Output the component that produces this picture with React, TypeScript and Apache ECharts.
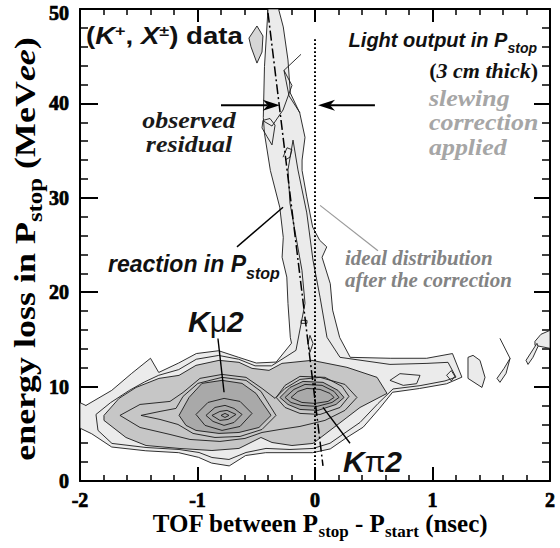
import React, { useEffect, useRef } from "react";
import * as echarts from "echarts";

// ---------- axes ----------
const X_MIN = -2;
const X_MAX = 2;
const X_STEP = 1;
const Y_MIN = 0;
const Y_MAX = 50;
const Y_STEP = 10;

// ---------- contour polygons: [TOF (nsec), energy loss (MeVee)] ----------
const BAND_OUTER = [
  [-2.0, 8.3], [-1.95, 8.0], [-1.73, 9.6], [-1.56, 11.4], [-1.4, 13.0], [-1.33, 11.5], [-1.16, 12.5],
  [-1.01, 13.5], [-0.82, 13.8], [-0.65, 13.1], [-0.5, 12.5], [-0.33, 12.6], [-0.2, 14.6], [-0.21, 15.2],
  [-0.23, 18.8], [-0.24, 21.6], [-0.28, 23.7], [-0.27, 25.8], [-0.3, 29.0], [-0.38, 32.9], [-0.43, 36.8],
  [-0.44, 38.5], [-0.43, 43.9], [-0.4, 50], [-0.31, 50], [-0.27, 48.1], [-0.23, 44.6], [-0.21, 41.1],
  [-0.13, 39.0], [-0.085, 36.4], [-0.11, 34.0], [-0.11, 32.9], [-0.07, 30.1], [-0.02, 26.9], [0.04, 25.5],
  [0.1, 24.8], [0.06, 23.7], [0.13, 20.9], [0.15, 18.1], [0.21, 15.2], [0.3, 13.1], [0.64, 13.0],
  [0.95, 13.0], [1.17, 13.5], [1.25, 11.0], [1.12, 10.3], [0.89, 9.8], [0.66, 9.4], [0.55, 7.7],
  [0.41, 5.7], [0.27, 4.6], [0.13, 3.4], [-0.02, 3.0], [-0.42, 3.0], [-0.59, 2.7], [-0.73, 1.6],
  [-0.88, 1.9], [-0.99, 2.5], [-1.16, 3.0], [-1.44, 3.2], [-1.73, 3.6], [-1.9, 5.0], [-2.0, 5.6],
];
const BAND_INNER = [
  [-1.864, 7.05], [-1.74, 8.3], [-1.58, 9.6], [-1.45, 10.5], [-1.33, 11.2], [-1.16, 11.8], [-1.01, 12.9],
  [-0.82, 13.3], [-0.65, 12.9], [-0.51, 12.2], [-0.37, 12.2], [-0.23, 13.3], [-0.162, 13.84],
  [-0.085, 18.82], [-0.111, 22.32], [-0.213, 29.43], [-0.23, 32.95], [-0.187, 36.11], [-0.145, 32.95],
  [-0.07, 28.4], [-0.017, 23.38], [0.043, 19.46], [0.102, 15.22], [0.213, 13.1], [0.638, 12.35],
  [0.953, 12.46], [1.132, 12.57], [1.2, 11.0], [1.106, 10.6], [0.894, 10.1], [0.664, 9.75], [0.536, 8.2],
  [0.383, 6.2], [0.255, 5.1], [0.128, 4.0], [-0.017, 3.45], [-0.213, 3.34], [-0.417, 3.45], [-0.587, 3.02],
  [-0.732, 2.28], [-0.877, 2.49], [-0.987, 3.02], [-1.157, 3.34], [-1.438, 3.55], [-1.728, 3.98],
  [-1.847, 5.36],
];
const MEDIUM = [
  [-1.796, 6.95], [-1.668, 8.75], [-1.523, 9.91], [-1.328, 10.87], [-1.157, 11.19], [-1.013, 12.25],
  [-0.817, 12.78], [-0.647, 12.57], [-0.536, 11.93], [-0.391, 11.72], [-0.281, 12.46], [-0.026, 12.78],
  [0.272, 12.04], [0.528, 10.98], [0.613, 9.28], [0.383, 7.79], [0.272, 6.73], [0.128, 5.36],
  [-0.017, 3.98], [-0.196, 3.76], [-0.366, 4.08], [-0.46, 4.61], [-0.647, 3.45], [-0.877, 3.23],
  [-1.157, 3.45], [-1.438, 3.76], [-1.609, 4.61], [-1.796, 6.42],
];
const MID_WRAP = [
  [-1.66, 6.95], [-1.489, 8.11], [-1.234, 8.43], [-1.123, 9.38], [-0.979, 10.87], [-0.791, 11.29],
  [-0.587, 10.98], [-0.451, 9.81], [-0.34, 8.75], [-0.255, 9.81], [-0.128, 10.76], [0.043, 10.98],
  [0.255, 10.23], [0.357, 8.85], [0.255, 7.48], [0.085, 6.42], [-0.128, 5.78], [-0.298, 5.46],
  [-0.451, 5.14], [-0.596, 4.51], [-0.809, 4.19], [-1.064, 4.4], [-1.234, 4.93], [-1.489, 5.67],
];
const KMU_R1 = [
  [-1.481, 6.95], [-1.319, 7.37], [-1.183, 7.69], [-1.123, 8.96], [-0.996, 10.34], [-0.791, 10.98],
  [-0.587, 10.66], [-0.46, 9.49], [-0.332, 6.95], [-0.451, 5.46], [-0.638, 4.72], [-0.851, 4.61],
  [-1.038, 5.04], [-1.166, 5.99], [-1.319, 6.52],
];
const KMU_CORE = [
  [-1.157, 6.95], [-1.072, 8.85], [-0.962, 10.34], [-0.791, 10.66], [-0.621, 10.34], [-0.502, 9.28],
  [-0.374, 6.95], [-0.477, 5.67], [-0.647, 5.14], [-0.817, 5.04], [-1.013, 5.36], [-1.098, 5.89],
];
const KMU_R2 = [
  [-1.013, 7.05], [-0.911, 8.32], [-0.774, 8.75], [-0.638, 8.43], [-0.536, 7.16], [-0.638, 5.78],
  [-0.791, 5.36], [-0.936, 5.89],
];
const KMU_R3 = [
  [-0.928, 6.95], [-0.851, 7.79], [-0.766, 8.01], [-0.689, 7.69], [-0.621, 7.05], [-0.689, 6.2],
  [-0.774, 5.89], [-0.868, 6.31],
];
const KMU_R4 = [[-0.877, 6.95], [-0.809, 7.37], [-0.749, 7.48], [-0.672, 7.05], [-0.74, 6.52], [-0.809, 6.42]];
const KMU_R5 = [[-0.8, 6.95], [-0.766, 7.16], [-0.732, 6.95], [-0.766, 6.73]];
const KPI_R1 = [
  [-0.33, 8.85], [-0.255, 10.13], [-0.128, 11.08], [0.085, 10.98], [0.23, 10.02], [0.289, 8.96],
  [0.213, 7.79], [0.043, 7.05], [-0.128, 7.16], [-0.255, 7.79],
];
const KPI_CORE = [
  [-0.298, 8.85], [-0.213, 9.91], [-0.102, 10.55], [0.068, 10.45], [0.196, 9.6], [0.247, 8.85],
  [0.179, 8.11], [0.026, 7.48], [-0.128, 7.58], [-0.23, 8.11],
];
const KPI_R3 = [
  [-0.255, 8.85], [-0.179, 9.7], [-0.085, 10.23], [0.06, 10.13], [0.162, 9.49], [0.204, 8.85],
  [0.145, 8.32], [0.017, 7.9], [-0.119, 8.01], [-0.204, 8.32],
];
const KPI_R4 = [
  [-0.204, 8.85], [-0.145, 9.49], [-0.068, 9.81], [0.043, 9.7], [0.128, 9.28], [0.162, 8.85],
  [0.111, 8.43], [0.0, 8.22], [-0.111, 8.32], [-0.17, 8.64],
];
const TOP_BLOB = [[-0.562, 46.92], [-0.494, 48.2], [-0.443, 47.14], [-0.451, 45.44], [-0.494, 44.27], [-0.545, 46.0]];
const RIGHT_LOOP = [[0.638, 10.66], [0.723, 11.37], [0.894, 11.19], [0.865, 10.31], [0.751, 10.13]];
const RIGHT_DIAMOND = [[1.12, 11.2], [1.16, 11.7], [1.19, 11.1], [1.16, 10.6]];
const RIGHT_BLOB_B = [[1.302, 13.1], [1.345, 13.31], [1.404, 12.78], [1.447, 10.98], [1.421, 9.91], [1.302, 10.87]];
const RIGHT_BLOB_C = [[1.66, 12.99], [1.609, 11.93], [1.549, 10.87], [1.574, 10.45], [1.626, 11.4]];
const RIGHT_LINE_C = [[1.574, 15.11], [1.66, 12.99]];
const RIGHT_BLOB_D = [[1.872, 14.79], [1.923, 15.54], [2.0, 15.96], [2.0, 14.05], [1.872, 14.37]];
const RIGHT_SPIKE_D = [[1.889, 14.58], [1.796, 12.78], [1.813, 12.35], [1.855, 13.1], [1.898, 14.26]];
const STALK_LINE_1 = [[-0.119, 45.2], [-0.264, 43.5], [-0.221, 40.8], [-0.128, 39.0]];
const STALK_LINE_2 = [[-0.264, 43.5], [-0.196, 41.9], [-0.272, 39.3], [-0.366, 37.6], [-0.434, 38.1]];
const STALK_LOOP_3 = [[-0.443, 38.2], [-0.383, 38.4], [-0.34, 37.7], [-0.366, 35.6], [-0.409, 36.5], [-0.451, 37.4]];
const STALK_LOOP_4 = [[-0.272, 34.3], [-0.238, 35.3], [-0.196, 35.1], [-0.213, 34.3], [-0.255, 34.0]];
const STALK_MARK = [[-0.119, 17.02], [-0.068, 17.02], [-0.068, 16.7], [-0.119, 16.7]];
const STALK_LEAF = [[-0.043, 15.43], [-0.017, 14.58], [-0.043, 13.63], [-0.06, 14.58]];

// ---------- annotation lines ----------
const DOTTED_LINE = [[0, 0], [0, 47.0]];
const DASHDOT_LINE = [[-0.4, 49.6], [0.068, 1.6]];
const ARROW_LEFT = [[-0.8, 39.8], [-0.3, 39.8]];
const ARROW_RIGHT = [[0.51, 39.8], [0.026, 39.8]];
const KMU_LEADER = [[-0.826, 15.1], [-0.774, 9.4]];
const KPI_LEADER = [[0.068, 7.8], [0.298, 4.0]];
const REACTION_LEADER = [[-0.664, 24.8], [-0.272, 29.0]];
const IDEAL_LEADER = [[0.043, 29.2], [0.536, 24.4]];

const SERIF = '"Liberation Serif", "Times New Roman", Times, serif';
const SANS = '"Liberation Sans", Arial, Helvetica, sans-serif';

const LIGHT = "#ebebeb";
const MED = "#c6c6c6";
const DARK = "#a9a9a9";
const BLOB = "#d6d6d6";

type Shape = { pts: number[][]; fill?: string; open?: boolean };
const SHAPES: Shape[] = [
  { pts: BAND_OUTER, fill: LIGHT },
  { pts: TOP_BLOB, fill: BLOB },
  { pts: RIGHT_BLOB_B, fill: LIGHT },
  { pts: RIGHT_BLOB_C, fill: LIGHT },
  { pts: RIGHT_BLOB_D, fill: LIGHT },
  { pts: RIGHT_SPIKE_D, fill: LIGHT },
  { pts: RIGHT_LINE_C, open: true },
  { pts: BAND_INNER },
  { pts: RIGHT_LOOP },
  { pts: RIGHT_DIAMOND },
  { pts: STALK_LINE_1, open: true },
  { pts: STALK_LINE_2, open: true },
  { pts: STALK_LOOP_3 },
  { pts: STALK_LOOP_4, open: true },
  { pts: STALK_MARK },
  { pts: STALK_LEAF },
  { pts: MEDIUM, fill: MED },
  { pts: MID_WRAP },
  { pts: KMU_R1 },
  { pts: KMU_CORE, fill: DARK },
  { pts: KMU_R2 },
  { pts: KMU_R3 },
  { pts: KMU_R4 },
  { pts: KMU_R5 },
  { pts: KPI_R1 },
  { pts: KPI_CORE, fill: DARK },
  { pts: KPI_R3 },
  { pts: KPI_R4 },
];

type Annot = { pts: number[][]; kind: "line" | "arrow"; color: string; lw: number; dash?: number[] };
const ANNOTS: Annot[] = [
  { pts: DOTTED_LINE, kind: "line", color: "#000", lw: 2, dash: [1.8, 2.2] },
  { pts: DASHDOT_LINE, kind: "line", color: "#000", lw: 1.5, dash: [10, 3, 2, 3] },
  { pts: KMU_LEADER, kind: "line", color: "#000", lw: 1.4 },
  { pts: KPI_LEADER, kind: "line", color: "#000", lw: 1.4 },
  { pts: REACTION_LEADER, kind: "line", color: "#000", lw: 1.4 },
  { pts: IDEAL_LEADER, kind: "line", color: "#9a9a9a", lw: 1.2 },
  { pts: ARROW_LEFT, kind: "arrow", color: "#000", lw: 2 },
  { pts: ARROW_RIGHT, kind: "arrow", color: "#000", lw: 2 },
];

function renderShape(params: any, api: any) {
  const s = SHAPES[params.dataIndex];
  const pts = s.pts.map((p) => api.coord(p));
  if (s.open) {
    return { type: "polyline", shape: { points: pts }, style: { fill: "none", stroke: "#1a1a1a", lineWidth: 0.9 } };
  }
  return {
    type: "polygon",
    shape: { points: pts },
    style: { fill: s.fill || "none", stroke: "#1a1a1a", lineWidth: 0.9 },
  };
}

function renderAnnot(params: any, api: any) {
  const a = ANNOTS[params.dataIndex];
  const p0 = api.coord(a.pts[0]);
  const p1 = api.coord(a.pts[1]);
  if (a.kind === "line") {
    return {
      type: "line",
      shape: { x1: p0[0], y1: p0[1], x2: p1[0], y2: p1[1] },
      style: { stroke: a.color, lineWidth: a.lw, lineDash: a.dash || null, fill: "none" },
    };
  }
  const dx = p1[0] - p0[0];
  const dy = p1[1] - p0[1];
  const len = Math.hypot(dx, dy) || 1;
  const ux = dx / len;
  const uy = dy / len;
  const px = -uy;
  const py = ux;
  const L = 17;
  const W = 5.5;
  const notch = 12;
  const bx = p1[0] - ux * L;
  const by = p1[1] - uy * L;
  const nx = p1[0] - ux * notch;
  const ny = p1[1] - uy * notch;
  return {
    type: "group",
    children: [
      {
        type: "line",
        shape: { x1: p0[0], y1: p0[1], x2: nx, y2: ny },
        style: { stroke: a.color, lineWidth: a.lw },
      },
      {
        type: "polygon",
        shape: { points: [[p1[0], p1[1]], [bx + px * W, by + py * W], [nx, ny], [bx - px * W, by - py * W]] },
        style: { fill: a.color, stroke: "none" },
      },
    ],
  };
}

function axisCommon(extra: any) {
  return {
    type: "value",
    axisLine: { show: true, onZero: false, lineStyle: { color: "#000", width: 2 } },
    splitLine: { show: false },
    ...extra,
  };
}

const LABEL_FONT = {
  fontFamily: SERIF, fontWeight: "bold", fontSize: 20, color: "#000",
  textBorderColor: "#000", textBorderWidth: 0.7,
};
const LABEL_RICH = {
  a: { ...LABEL_FONT },
  t: { ...LABEL_FONT, padding: [8, 0, 0, 0] },
};

export default function App() {
  const ref = useRef<HTMLDivElement>(null);
  useEffect(() => {
    if (!ref.current) return;
    const chart = echarts.init(ref.current, undefined, { renderer: "svg" });
    const tickLabel = { ...LABEL_FONT, rich: LABEL_RICH };
    const option: any = {
      animation: false,
      grid: { left: 80, right: 10, top: 9, bottom: 67, containLabel: false, outerBoundsMode: "none" },
      xAxis: [
        axisCommon({
          min: X_MIN, max: X_MAX, interval: X_STEP, position: "bottom",
          axisTick: { show: true, inside: true, length: 14, lineStyle: { color: "#000", width: 2 } },
          minorTick: { show: true, splitNumber: 5, length: 6, lineStyle: { color: "#000", width: 1.5 } },
          axisLabel: {
            ...tickLabel, margin: 9, showMinLabel: true, showMaxLabel: true,
            formatter: (v: number) => `{a|${v}}`,
          },
        }),
        axisCommon({
          min: X_MIN, max: X_MAX, interval: X_STEP, position: "top",
          axisTick: { show: true, inside: true, length: 13, lineStyle: { color: "#000", width: 2 } },
          minorTick: { show: true, splitNumber: 5, length: 6, lineStyle: { color: "#000", width: 1.5 } },
          axisLabel: { show: false },
        }),
      ],
      yAxis: [
        axisCommon({
          min: Y_MIN, max: Y_MAX, interval: Y_STEP, position: "left",
          axisTick: { show: true, inside: true, length: 18, lineStyle: { color: "#000", width: 2 } },
          minorTick: { show: true, splitNumber: 5, length: 8, lineStyle: { color: "#000", width: 1.5 } },
          axisLabel: {
            ...tickLabel, margin: 11, showMinLabel: true, showMaxLabel: true,
            formatter: (v: number) => (v === Y_MAX ? `{t|${v}}` : `{a|${v}}`),
          },
        }),
        axisCommon({
          min: Y_MIN, max: Y_MAX, interval: Y_STEP, position: "right",
          axisTick: { show: true, inside: true, length: 16, lineStyle: { color: "#000", width: 2 } },
          minorTick: { show: true, splitNumber: 5, length: 8, lineStyle: { color: "#000", width: 1.5 } },
          axisLabel: { show: false },
        }),
      ],
      series: [
        {
          type: "custom",
          name: "contours",
          xAxisIndex: 0,
          yAxisIndex: 0,
          clip: true,
          silent: true,
          z: 1,
          renderItem: renderShape,
          encode: { x: 0, y: 1 },
          data: SHAPES.map((s) => s.pts[0]),
        },
        {
          type: "custom",
          name: "annotations",
          xAxisIndex: 0,
          yAxisIndex: 0,
          clip: true,
          silent: true,
          z: 3,
          renderItem: renderAnnot,
          encode: { x: 0, y: 1 },
          data: ANNOTS.map((a) => a.pts[0]),
        },
      ],
      graphic: [
        {
          type: "text", x: 25, y: 249, rotation: Math.PI / 2, scaleX: 1.24, z: 100,
          style: {
            text: "{b|energy loss in P}{s|stop}{b| (MeV}{i|ee}{b|)}",
            align: "center", verticalAlign: "middle",
            rich: {
              b: { fontFamily: SERIF, fontWeight: "bold", fontSize: 29, lineHeight: 40, fill: "#000" },
              i: { fontFamily: SERIF, fontWeight: "bold", fontStyle: "italic", fontSize: 29, lineHeight: 40, fill: "#000" },
              s: { fontFamily: SERIF, fontWeight: "bold", fontSize: 20, verticalAlign: "bottom", fill: "#000" },
            },
          },
        },
        {
          type: "text", x: 320, y: 523, z: 100,
          style: {
            text: "{b|TOF between P}{s|stop}{b| - P}{s|start}{b| (nsec)}",
            align: "center", verticalAlign: "middle",
            rich: {
              b: { fontFamily: SERIF, fontWeight: "bold", fontSize: 25, lineHeight: 34, fill: "#000" },
              s: { fontFamily: SERIF, fontWeight: "bold", fontSize: 17, verticalAlign: "bottom", fill: "#000" },
            },
          },
        },
        {
          type: "text", x: 86, y: 36, scaleX: 1.2, z: 100,
          style: {
            text: "{p|(}{i|K}{u|+}{p|, }{i|X}{u|±}{p|) data}",
            align: "left", verticalAlign: "middle",
            rich: {
              p: { fontFamily: SANS, fontWeight: "bold", fontSize: 23, lineHeight: 24, fill: "#111" },
              i: { fontFamily: SANS, fontWeight: "bold", fontStyle: "italic", fontSize: 23, lineHeight: 24, fill: "#111" },
              u: { fontFamily: SANS, fontWeight: "bold", fontSize: 15, verticalAlign: "top", fill: "#111" },
            },
          },
        },
        {
          type: "text", x: 537, y: 40, z: 100,
          style: {
            text: "{a|Light output in P}{s|stop}",
            align: "right", verticalAlign: "middle",
            rich: {
              a: { fontFamily: SANS, fontWeight: "bold", fontStyle: "italic", fontSize: 20, lineHeight: 30, fill: "#111" },
              s: { fontFamily: SANS, fontWeight: "bold", fontStyle: "italic", fontSize: 14, verticalAlign: "bottom", fill: "#111" },
            },
          },
        },
        {
          type: "text", x: 538, y: 70, z: 100,
          style: {
            text: "{b|(}{i|3 cm thick}{b|)}",
            align: "right", verticalAlign: "middle",
            rich: {
              b: { fontFamily: SERIF, fontWeight: "bold", fontSize: 22, fill: "#111" },
              i: { fontFamily: SERIF, fontWeight: "bold", fontStyle: "italic", fontSize: 22, fill: "#111" },
            },
          },
        },
        {
          type: "text", x: 429, y: 122, scaleX: 1.08, z: 100,
          style: {
            text: "slewing\ncorrection\napplied",
            align: "left", verticalAlign: "middle", lineHeight: 24.5,
            fontFamily: SERIF, fontWeight: "bold", fontStyle: "italic", fontSize: 24, fill: "#a6a6a6",
          },
        },
        {
          type: "text", x: 189, y: 132, scaleX: 1.08, z: 100,
          style: {
            text: "observed\nresidual",
            align: "center", verticalAlign: "middle", lineHeight: 24.5,
            fontFamily: SERIF, fontWeight: "bold", fontStyle: "italic", fontSize: 24, fill: "#1a1a1a",
          },
        },
        {
          type: "text", x: 108, y: 264, z: 100,
          style: {
            text: "{a|reaction in P}{s|stop}",
            align: "left", verticalAlign: "middle",
            rich: {
              a: { fontFamily: SANS, fontWeight: "bold", fontStyle: "italic", fontSize: 23, lineHeight: 34, fill: "#111" },
              s: { fontFamily: SANS, fontWeight: "bold", fontStyle: "italic", fontSize: 16, verticalAlign: "bottom", fill: "#111" },
            },
          },
        },
        {
          type: "text", x: 345, y: 269, z: 100,
          style: {
            text: "ideal distribution\nafter the correction",
            align: "left", verticalAlign: "middle", lineHeight: 21.7,
            fontFamily: SERIF, fontWeight: "bold", fontStyle: "italic", fontSize: 21, fill: "#838383",
          },
        },
        {
          type: "text", x: 188, y: 321, z: 100,
          style: {
            text: "{k|K}{m|μ}{k|2}",
            align: "left", verticalAlign: "middle",
            rich: {
              k: { fontFamily: SANS, fontWeight: "bold", fontStyle: "italic", fontSize: 30, fill: "#111" },
              m: { fontFamily: SANS, fontWeight: "normal", fontSize: 30, fill: "#111" },
            },
          },
        },
        {
          type: "text", x: 343, y: 461, z: 100,
          style: {
            text: "{k|K}{m|π}{k|2}",
            align: "left", verticalAlign: "middle",
            rich: {
              k: { fontFamily: SANS, fontWeight: "bold", fontStyle: "italic", fontSize: 30, fill: "#111" },
              m: { fontFamily: SANS, fontWeight: "normal", fontSize: 30, fill: "#111" },
            },
          },
        },
      ],
    };
    chart.setOption(option);
    return () => chart.dispose();
  }, []);
  return (
    <div
      ref={ref}
      style={{ position: "absolute", left: 0, top: 0, width: 560, height: 548, background: "#fff" }}
    />
  );
}
